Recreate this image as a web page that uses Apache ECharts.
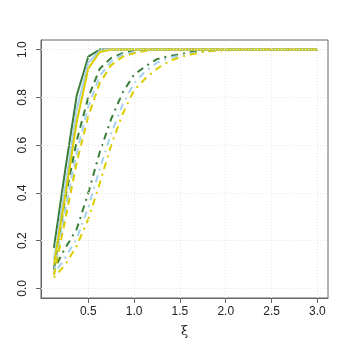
<!DOCTYPE html>
<html>
<head>
<meta charset="utf-8">
<script src="https://cdn.jsdelivr.net/npm/echarts@6/dist/echarts.min.js"></script>
<style>
html, body { margin: 0; padding: 0; background: #fff; }
#chart { width: 349px; height: 349px; }
</style>
</head>
<body>
<div id="chart"></div>
<script>
const xi = [0.125, 0.25, 0.375, 0.5, 0.625, 0.75, 0.875, 1, 1.125, 1.25, 1.375, 1.5,
  1.625, 1.75, 1.875, 2, 2.125, 2.25, 2.375, 2.5, 2.625, 2.75, 2.875, 3]

// solid lines
const solidGreen  = [0.17, 0.50, 0.81, 0.97, 1.0, 1, 1, 1, 1, 1, 1, 1, 1, 1, 1, 1, 1, 1, 1, 1, 1, 1, 1, 1]
const solidBlue   = [0.12, 0.43, 0.75, 0.945, 0.995, 1, 1, 1, 1, 1, 1, 1, 1, 1, 1, 1, 1, 1, 1, 1, 1, 1, 1, 1]
const solidYellow = [0.10, 0.39, 0.70, 0.92, 0.99, 1, 1, 1, 1, 1, 1, 1, 1, 1, 1, 1, 1, 1, 1, 1, 1, 1, 1, 1]

// dashed lines
const dashGreen  = [0.08, 0.38, 0.62, 0.80, 0.92, 0.965, 0.985, 0.995, 1, 1, 1, 1, 1, 1, 1, 1, 1, 1, 1, 1, 1, 1, 1, 1]
const dashBlue   = [0.065, 0.33, 0.57, 0.76, 0.89, 0.95, 0.98, 0.99, 0.997, 1, 1, 1, 1, 1, 1, 1, 1, 1, 1, 1, 1, 1, 1, 1]
const dashYellow = [0.055, 0.29, 0.53, 0.72, 0.86, 0.935, 0.97, 0.985, 0.995, 1, 1, 1, 1, 1, 1, 1, 1, 1, 1, 1, 1, 1, 1, 1]

// dot-dash lines
const dotGreen  = [0.08, 0.17, 0.25, 0.40, 0.57, 0.71, 0.82, 0.895, 0.93, 0.96, 0.972, 0.98, 0.99, 0.995, 0.998, 1, 1, 1, 1, 1, 1, 1, 1, 1]
const dotBlue   = [0.06, 0.13, 0.21, 0.34, 0.50, 0.65, 0.77, 0.86, 0.91, 0.945, 0.965, 0.975, 0.985, 0.99, 0.995, 1, 1, 1, 1, 1, 1, 1, 1, 1]
const dotYellow = [0.045, 0.10, 0.18, 0.29, 0.44, 0.60, 0.73, 0.83, 0.88, 0.92, 0.95, 0.968, 0.98, 0.99, 0.995, 0.997, 0.999, 1, 1, 1, 1, 1, 1, 1]

const xTicks = [0.5, 1.0, 1.5, 2.0, 2.5, 3.0]
const yTicks = [0.0, 0.2, 0.4, 0.6, 0.8, 1.0]

const green = '#3a7e3a'
const blue = '#a4d0ee'
const yellow = '#dccd00'

const dashed = [7, 5]
const dotdash = [2, 5, 7, 5]

function line( values, color, type ) {
  return {
    type: 'line',
    data: xi.map( ( x, i ) => [ x, values[ i ] ] ),
    showSymbol: false,
    symbol: 'none',
    lineStyle: { color: color, width: 2, type: type },
    z: 3
  }
}

const series = [
  line( dotGreen, green, dotdash ),
  line( dotBlue, blue, dotdash ),
  line( dotYellow, yellow, dotdash ),
  line( dashGreen, green, dashed ),
  line( dashBlue, blue, dashed ),
  line( dashYellow, yellow, dashed ),
  line( solidGreen, green, 'solid' ),
  line( solidBlue, blue, 'solid' ),
  line( solidYellow, yellow, 'solid' )
]

// light dotted grid at tick positions
series.push( {
  type: 'line',
  data: [],
  markLine: {
    silent: true,
    symbol: 'none',
    label: { show: false },
    lineStyle: { color: '#e6e6e6', width: 1, type: [1, 2] },
    data: xTicks.map( v => ( { xAxis: v } ) ).concat( yTicks.map( v => ( { yAxis: v } ) ) )
  },
  z: 1
} )

const chart = echarts.init( document.getElementById( 'chart' ), null, { renderer: 'canvas' } )

const labelFont = { fontFamily: 'Liberation Sans, Arial, sans-serif', fontSize: 12, color: '#222' }

chart.setOption( {
  animation: false,
  backgroundColor: '#fff',
  grid: {
    left: 41, right: 21, top: 40, bottom: 51,
    show: true, borderColor: '#666', borderWidth: 1,
    outerBoundsMode: 'none'
  },
  xAxis: {
    type: 'value',
    min: -0.016, max: 3.116,
    name: 'ξ',
    nameLocation: 'middle',
    nameGap: 27,
    nameTextStyle: { fontFamily: 'DejaVu Serif, serif', fontSize: 13, color: '#222' },
    axisLine: { show: true, onZero: false, lineStyle: { color: '#666' } },
    axisTick: { show: true, inside: false, length: 5, lineStyle: { color: '#666' }, customValues: xTicks },
    axisLabel: Object.assign( { margin: 8, customValues: xTicks, formatter: v => v.toFixed( 1 ) }, labelFont ),
    splitLine: { show: false }
  },
  yAxis: {
    type: 'value',
    min: -0.04, max: 1.04,
    axisLine: { show: true, onZero: false, lineStyle: { color: '#666' } },
    axisTick: { show: true, inside: false, length: 5, lineStyle: { color: '#666' }, customValues: yTicks },
    axisLabel: Object.assign( { margin: 12, rotate: 90, customValues: yTicks, formatter: v => v.toFixed( 1 ) }, labelFont ),
    splitLine: { show: false }
  },
  series: series
} )
</script>
</body>
</html>
